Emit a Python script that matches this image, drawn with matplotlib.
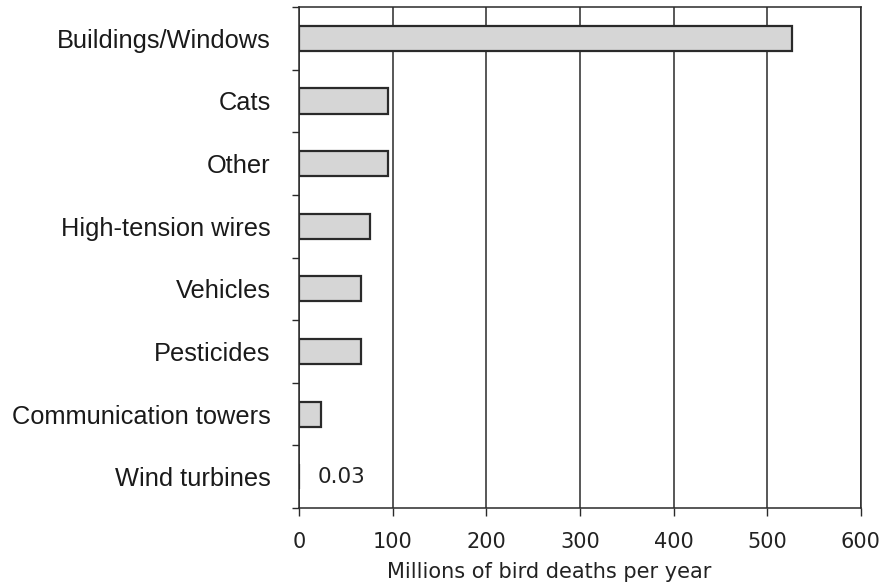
import numpy as np
import matplotlib.pyplot as plt

categories = ["Buildings/Windows", "Cats", "Other", "High-tension wires",
              "Vehicles", "Pesticides", "Communication towers", "Wind turbines"]
deaths = [526, 95, 95, 76, 66, 66, 24, 0.03]
xticks = [0, 100, 200, 300, 400, 500, 600]

fig = plt.figure(figsize=(8.83, 5.88), dpi=100)
ax = fig.add_axes([0.3386, 0.136, 0.6364, 0.852])

y = np.arange(len(categories))
ax.barh(y, deaths, height=0.4, color='#d6d6d6', edgecolor='#2a2a2a',
        linewidth=1.6, zorder=3)

ax.set_xlim(0, 600)
ax.set_ylim(len(categories) - 0.5, -0.5)
ax.set_xticks(xticks)
ax.set_xticklabels([str(t) for t in xticks], family='DejaVu Sans', fontsize=15,
                   color='#222222')
ax.xaxis.grid(True, color='#2a2a2a', linewidth=1.1, zorder=1)

# category labels sit between the boundary ticks
ax.set_yticks(np.arange(len(categories) + 1) - 0.5)
ax.set_yticklabels([])
ax.set_yticks(y, minor=True)
ax.set_yticklabels(categories, minor=True, family='Liberation Sans', fontsize=18.3,
                   color='#1a1a1a')
ax.tick_params(axis='y', which='minor', length=0, pad=20.5)
ax.tick_params(axis='y', which='major', length=5, width=1, color='#2a2a2a')
ax.tick_params(axis='x', length=6, width=1, color='#2a2a2a', pad=11)

for s in ax.spines.values():
    s.set_color('#2a2a2a')
    s.set_linewidth(1.1)

ax.text(deaths[-1] + 20, y[-1], "0.03", va='center', ha='left',
        family='DejaVu Sans', fontsize=15.5, color='#222222')

ax.set_xlabel("Millions of bird deaths per year", family='DejaVu Sans',
              fontsize=15, color='#222222')
ax.xaxis.set_label_coords(0.445, -0.108)

fig.savefig("out.png", dpi=100)
